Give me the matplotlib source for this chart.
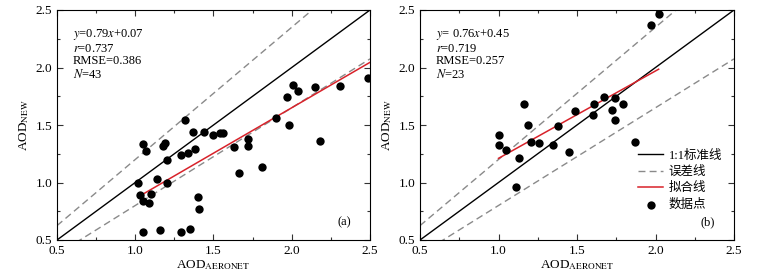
import matplotlib
matplotlib.use("Agg")
import matplotlib.pyplot as plt
from matplotlib.ticker import MultipleLocator
import numpy as np

plt.rcParams['font.family'] = ['Liberation Serif', 'Noto Sans CJK SC']
plt.rcParams['mathtext.fontset'] = 'stix'

# Panel (a) data
xa = [1.02, 1.03, 1.05, 1.05, 1.05, 1.07, 1.09, 1.10, 1.14, 1.16, 1.18, 1.19, 1.20, 1.20,
      1.29, 1.29, 1.32, 1.34, 1.35, 1.37, 1.38, 1.40, 1.41, 1.44, 1.50, 1.54, 1.56, 1.63,
      1.66, 1.72, 1.72, 1.81, 1.90, 1.97, 1.98, 2.01, 2.04, 2.15, 2.18, 2.31, 2.49]
ya = [1.00, 0.89, 1.335, 0.84, 0.57, 1.27, 0.82, 0.90, 1.03, 0.59, 1.32, 1.34, 1.00, 1.20,
      1.24, 0.57, 1.54, 1.26, 0.60, 1.44, 1.29, 0.87, 0.77, 1.44, 1.41, 1.43, 1.43, 1.31,
      1.08, 1.38, 1.32, 1.135, 1.56, 1.74, 1.50, 1.845, 1.80, 1.83, 1.36, 1.84, 1.91]
fit_a = (0.79, 0.07)
fit_a_range = (1.02, 2.5)
stats_a = ["$y$=0.79$x$+0.07", "$r$=0.737", "RMSE=0.386", "$N$=43"]

# Panel (b) data
xb = [1.00, 1.00, 1.05, 1.11, 1.13, 1.16, 1.19, 1.21, 1.26, 1.35, 1.38, 1.45, 1.49, 1.60,
      1.61, 1.675, 1.72, 1.74, 1.74, 1.79, 1.87, 1.97, 2.02]
yb = [1.33, 1.41, 1.28, 0.96, 1.21, 1.68, 1.50, 1.355, 1.34, 1.33, 1.49, 1.265, 1.62, 1.59,
      1.68, 1.74, 1.63, 1.735, 1.54, 1.68, 1.35, 2.37, 2.465]
fit_b = (0.76, 0.45)
fit_b_range = (1.0, 2.02)
stats_b = ["$y$= 0.76$x$+0.45", "$r$=0.719", "RMSE=0.257", "$N$=23"]

legend_labels = ["1:1标准线", "误差线", "拟合线", "数据点"]

fig = plt.figure(figsize=(7.63, 2.76), dpi=100)
axes = [fig.add_axes([57/763, 1-240/276, 313/763, 230/276]),
        fig.add_axes([420/763, 1-240/276, 314/763, 230/276])]

panels = [(xa, ya, fit_a, fit_a_range, stats_a, "(a)"),
          (xb, yb, fit_b, fit_b_range, stats_b, "(b)")]

line_x = np.array([0.5, 2.5])
for ax, (x, y, fit, fr, stats, tag) in zip(axes, panels):
    h1, = ax.plot(line_x, line_x, color='black', lw=1.0, zorder=2)
    h2, = ax.plot(line_x, 1.15*line_x + 0.05, color='#8a8a8a', lw=1.0, ls=(0, (5, 3)), zorder=2)
    ax.plot(line_x, 0.85*line_x - 0.05, color='#8a8a8a', lw=1.0, ls=(0, (5, 3)), zorder=2)
    fx = np.array(fr)
    h3, = ax.plot(fx, fit[0]*fx + fit[1], color='#d8222a', lw=1.1, zorder=3)
    h4 = ax.scatter(x, y, s=36, color='black', zorder=4, linewidths=0)
    ax.set_xlim(0.5, 2.5)
    ax.set_ylim(0.5, 2.5)
    ax.xaxis.set_major_locator(MultipleLocator(0.5))
    ax.yaxis.set_major_locator(MultipleLocator(0.5))
    ax.xaxis.set_minor_locator(MultipleLocator(0.25))
    ax.yaxis.set_minor_locator(MultipleLocator(0.25))
    ax.xaxis.set_major_formatter(matplotlib.ticker.FormatStrFormatter('%.1f'))
    ax.yaxis.set_major_formatter(matplotlib.ticker.FormatStrFormatter('%.1f'))
    ax.tick_params(which='both', direction='in', top=True, right=True, labelsize=9.5,
                   width=0.8, color='#333333')
    ax.tick_params(which='major', length=4)
    ax.tick_params(which='minor', length=2.5)
    for s in ax.spines.values():
        s.set_linewidth(0.8)
    ax.set_xlabel("AOD$_{\\mathrm{AERONET}}$", fontsize=9.5, labelpad=1)
    ax.set_ylabel("AOD$_{\\mathrm{NEW}}$", fontsize=9.5, labelpad=3)
    ax.text(0.05, 0.925, "\n".join(stats), transform=ax.transAxes, fontsize=9,
            va='top', ha='left', linespacing=1.05)
    ax.text(0.94, 0.05, tag, transform=ax.transAxes, fontsize=9, ha='right', va='bottom')

axes[1].legend([h1, h2, h3, h4], legend_labels, loc='center left',
               bbox_to_anchor=(0.66, 0.26), frameon=False,
               handlelength=2.0, handletextpad=0.4, labelspacing=0.35,
               prop={'family': ['Liberation Serif', 'Noto Sans CJK SC'], 'size': 9})

fig.savefig("out.png", dpi=100)
